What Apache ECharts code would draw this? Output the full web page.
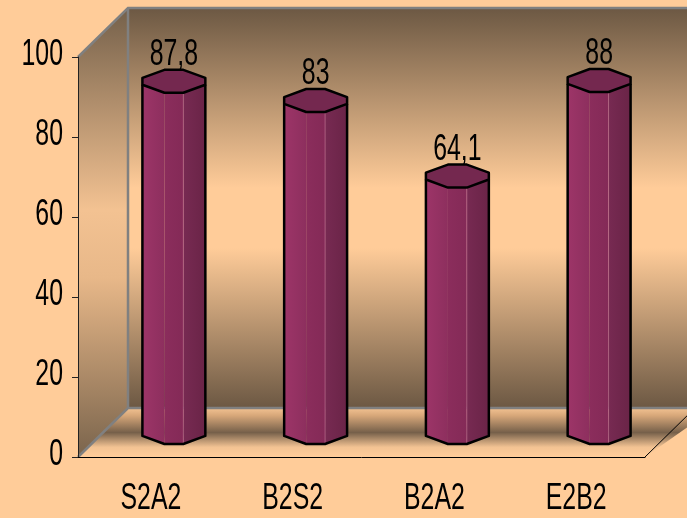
<!DOCTYPE html>
<html>
<head>
<meta charset="utf-8">
<script src="https://cdn.jsdelivr.net/npm/echarts@6/dist/echarts.min.js"></script>
<style>
  html, body { margin: 0; padding: 0; background: #FFCC99; }
  #chart { width: 687px; height: 518px; }
</style>
</head>
<body>
<div id="chart"></div>
<script>
// Chart data
const categories = ['S2A2', 'B2S2', 'B2A2', 'E2B2'];
const values = [87.8, 83, 64.1, 88];
const yTicks = [0, 20, 40, 60, 80, 100];

const FONT = '"Liberation Sans", Arial, sans-serif';
const FONT_SIZE = 36;
const NARROW = 0.69;               // horizontal squeeze for a narrow, tall face
const DX = 50, DY = -49;           // depth of the 3D box in pixels
const fmt = v => String(v).replace('.', ',');

// Octagon outline (normalized), listed clockwise from the left-top vertex
const OCT = [[-1, -0.3], [-0.3, -1], [0.3, -1], [1, -0.3], [1, 0.3], [0.3, 1], [-0.3, 1], [-1, 0.3]];

function hGrad(a, b) {
  return new echarts.graphic.LinearGradient(0, 0, 1, 0, [{ offset: 0, color: a }, { offset: 1, color: b }]);
}
function vGrad(stops) {
  return new echarts.graphic.LinearGradient(0, 0, 0, 1, stops);
}
function narrowText(x, y, text, align) {
  return {
    type: 'text', x: x, y: y, scaleX: NARROW,
    style: { text: text, x: 0, y: 0, align: align, verticalAlign: 'middle',
             fontSize: FONT_SIZE, fontFamily: FONT, fill: '#000' }
  };
}

// Back wall, side wall and floor of the 3D box
function renderWalls(params, api) {
  const cs = params.coordSys;
  const x0 = cs.x, y0 = cs.y, x1 = cs.x + cs.width, y1 = cs.y + cs.height;
  const wallStops = [
    { offset: 0, color: '#6c5843' },
    { offset: 0.45, color: '#ffcc99' },
    { offset: 0.6, color: '#ffcc99' },
    { offset: 1, color: '#6c5843' }
  ];
  const sideStops = [
    { offset: 0, color: '#74604a' },
    { offset: 0.45, color: '#f3c292' },
    { offset: 0.6, color: '#e8b889' },
    { offset: 1, color: '#7a644c' }
  ];
  const floorStops = [
    { offset: 0, color: '#f2c292' },
    { offset: 0.15, color: '#d8a87a' },
    { offset: 0.5, color: '#76604a' },
    { offset: 0.8, color: '#f3c393' },
    { offset: 1, color: '#ffcc99' }
  ];
  const gray = { stroke: '#808080', lineWidth: 2.5, fill: null };
  return {
    type: 'group',
    children: [
      { type: 'polygon', shape: { points: [[x0 + DX, y0 + DY], [x1 + DX + 20, y0 + DY], [x1 + DX + 20, y1 + DY], [x0 + DX, y1 + DY]] },
        style: { fill: vGrad(wallStops) } },
      { type: 'polygon', shape: { points: [[x0, y0], [x0 + DX, y0 + DY], [x0 + DX, y1 + DY], [x0, y1]] },
        style: { fill: vGrad(sideStops) } },
      { type: 'polygon', shape: { points: [[x0, y1], [x0 + DX, y1 + DY], [x1 + DX + 20, y1 + DY], [x1, y1]] },
        style: { fill: vGrad(floorStops) } },
      { type: 'polyline', shape: { points: [[x0, y0], [x0 + DX, y0 + DY], [x1 + DX + 20, y0 + DY]] }, style: gray },
      { type: 'polyline', shape: { points: [[x0 + DX, y0 + DY], [x0 + DX, y1 + DY]] }, style: gray },
      { type: 'polyline', shape: { points: [[x0, y1], [x0 + DX, y1 + DY], [x1 + DX + 20, y1 + DY]] }, style: gray },
      { type: 'polyline', shape: { points: [[x1, y1], [x1 + DX, y1 + DY]] }, style: { stroke: '#000', lineWidth: 1, fill: null } }
    ]
  };
}

// Octagonal column standing in the middle of the box depth, with its value above
function renderBar(params, api) {
  const idx = api.value(0), v = api.value(1);
  const top = api.coord([idx, v]);
  const base = api.coord([idx, 0]);
  const band = api.size([1, 0])[0];
  const rx = band * 0.222, ry = rx * 0.365;
  const cx = top[0] + DX / 2;
  const cyT = top[1] + DY / 2, cyB = base[1] + DY / 2;
  const pT = i => [cx + OCT[i][0] * rx, cyT + OCT[i][1] * ry];
  const pB = i => [cx + OCT[i][0] * rx, cyB + OCT[i][1] * ry];
  const face = (a, b, fill) => ({
    type: 'polygon', shape: { points: [pT(a), pT(b), pB(b), pB(a)] }, style: { fill: fill }
  });
  return {
    type: 'group',
    children: [
      face(7, 6, hGrad('#9d3568', '#8d2f5e')),
      face(6, 5, hGrad('#8b2d5c', '#842a57')),
      face(5, 4, hGrad('#772a52', '#6a2447')),
      { type: 'polyline', shape: { points: [pT(5), pB(5)] },
        style: { stroke: 'rgba(205,125,160,0.55)', lineWidth: 1, fill: null } },
      { type: 'polyline', shape: { points: [pT(7), pB(7), pB(6), pB(5), pB(4), pT(4)] },
        style: { stroke: '#000', lineWidth: 2.5, fill: null, lineJoin: 'round' } },
      { type: 'polygon', shape: { points: OCT.map((p, i) => pT(i)) },
        style: { fill: '#74284f', stroke: '#000', lineWidth: 2.5, lineJoin: 'round' } },
      narrowText(cx, cyT - ry - 15, fmt(v), 'center')
    ]
  };
}

// Value-axis tick labels, placed through the axis scale
function renderYLabels(params, api) {
  const y = api.coord([0, api.value(1)])[1];
  return narrowText(params.coordSys.x - 15, y - 1.5, String(api.value(1)), 'right');
}

// Category labels under the front edge
function renderXLabels(params, api) {
  const idx = api.value(0);
  const p = api.coord([idx, 0]);
  return narrowText(p[0] + 2, p[1] + 42, categories[idx], 'center');
}

const chart = echarts.init(document.getElementById('chart'), null, { renderer: 'canvas' });
chart.setOption({
  animation: false,
  backgroundColor: '#FFCC99',
  grid: { left: 78, right: 42, top: 57, bottom: 61 },
  xAxis: {
    type: 'category',
    data: categories,
    z: 5,
    axisLine: { lineStyle: { color: '#000', width: 1 } },
    axisTick: { length: 10, lineStyle: { color: '#000' } },
    axisLabel: { show: false }
  },
  yAxis: {
    type: 'value',
    min: yTicks[0],
    max: yTicks[yTicks.length - 1],
    interval: yTicks[1] - yTicks[0],
    z: 5,
    splitLine: { show: false },
    axisLine: { show: true, lineStyle: { color: '#222', width: 1 } },
    axisTick: { show: true, length: 6, lineStyle: { color: '#222' } },
    axisLabel: { show: false }
  },
  series: [
    { type: 'custom', z: 1, silent: true, clip: false, renderItem: renderWalls, data: [[0, 0]] },
    { type: 'custom', z: 3, silent: true, clip: false, renderItem: renderBar, data: values.map((v, i) => [i, v]) },
    { type: 'custom', z: 6, silent: true, clip: false, renderItem: renderYLabels, data: yTicks.map(t => [0, t]) },
    { type: 'custom', z: 6, silent: true, clip: false, renderItem: renderXLabels, data: categories.map((c, i) => [i, 0]) }
  ]
});
</script>
</body>
</html>
